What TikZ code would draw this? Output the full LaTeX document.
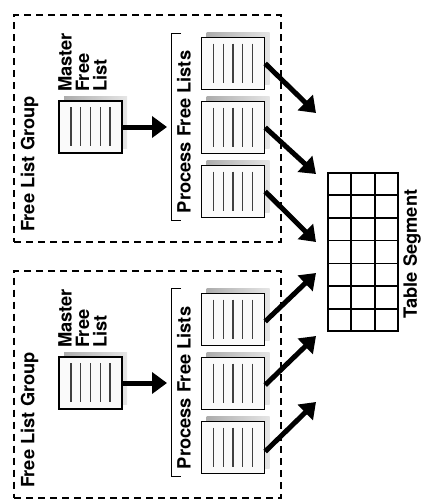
\documentclass[tikz,border=0pt]{standalone}
\usepackage{fontspec}
\setmainfont{TeX Gyre Heros}
\usetikzlibrary{arrows.meta,shadows,calc}
\begin{document}
\begin{tikzpicture}[x=1pt,y=-1pt,
 lbl/.style={font=\fontsize{18.3}{17.5}\selectfont\bfseries, inner sep=0pt, rotate=90},
 group/.style={draw, line width=2pt, dash pattern=on 7pt off 5pt, minimum width=267pt, minimum height=227pt, anchor=north west, inner sep=0pt},
 doc/.style={draw, line width=1.4pt, fill=gray!4, minimum width=63pt, minimum height=52pt, inner sep=0pt,
   general shadow={shadow xshift=5pt, shadow yshift=5pt, left color=gray!65, right color=gray!20},
   path picture={\foreach \i in {-2,...,2}{\draw[black!75, line width=1.3pt] ([xshift=\i*9.75pt, yshift=-6pt]path picture bounding box.north) -- ([xshift=\i*9.75pt, yshift=7pt]path picture bounding box.south);}}},
 bigarrow/.style={line width=5pt, -{Triangle[length=15pt,width=21pt]}},
 bracket/.style={line width=0.8pt}
]
\useasboundingbox (0,0) rectangle (422,499);
% groups
\node[group] (g1) at (13,14) {};
\node[group] (g2) at (13,269.5) {};
\node[lbl] (fg1) at (29.5,164) {Free List Group};
\node[lbl] (fg2) at (29.5,420) {Free List Group};
% master free lists
\node[doc] (m1) at (90.5,127) {};
\node[doc] (m2) at (90.5,383) {};
\node[lbl, align=left, anchor=north west] (ml1) at (58,92) {Master\\Free\\List};
\node[lbl, align=left, anchor=north west] (ml2) at (58,348) {Master\\Free\\List};
% process free lists
\node[doc] (p11) at (233,63.5) {};
\node[doc] (p12) at (233,127.5) {};
\node[doc] (p13) at (233,191.5) {};
\node[doc] (p21) at (233,319.5) {};
\node[doc] (p22) at (233,383.5) {};
\node[doc] (p23) at (233,447.5) {};
\draw[bracket] (181,33) -- (171.5,33) -- (171.5,220) -- (181,220);
\draw[bracket] (181,288.5) -- (171.5,288.5) -- (171.5,476.5) -- (181,476.5);
\node[lbl] (pl1) at (184,132) {Process Free Lists};
\node[lbl] (pl2) at (184,388) {Process Free Lists};
% table segment
\node[draw, line width=1.8pt, minimum width=70pt, minimum height=158pt, inner sep=0pt] (tbl) at (363,252) {};
\foreach \k in {1,2}
  \draw[line width=1.8pt] ($(tbl.north west)!\k/3!(tbl.north east)$) -- ($(tbl.south west)!\k/3!(tbl.south east)$);
\foreach \k in {1,...,6}
  \draw[line width=1.8pt] ($(tbl.north west)!\k/7!(tbl.south west)$) -- ($(tbl.north east)!\k/7!(tbl.south east)$);
\node[lbl] (tl) at (412,254) {Table Segment};
% arrows
\coordinate (a1) at (167,127);
\coordinate (a2) at (167,383);
\draw[bigarrow] (m1) -- (a1);
\draw[bigarrow] (m2) -- (a2);
\coordinate (t11) at (316,113);
\coordinate (t12) at (316,174);
\coordinate (t13) at (316,242);
\coordinate (t21) at (316,273);
\coordinate (t22) at (316,336);
\coordinate (t23) at (316,402);
\draw[bigarrow] (p11.east) -- (t11);
\draw[bigarrow] (p12.east) -- (t12);
\draw[bigarrow] (p13.east) -- (t13);
\draw[bigarrow] ([yshift=-2pt]p21.east) -- (t21);
\draw[bigarrow] ([yshift=-1.5pt]p22.east) -- (t22);
\draw[bigarrow] ([yshift=-4pt]p23.east) -- (t23);
\end{tikzpicture}
\end{document}
